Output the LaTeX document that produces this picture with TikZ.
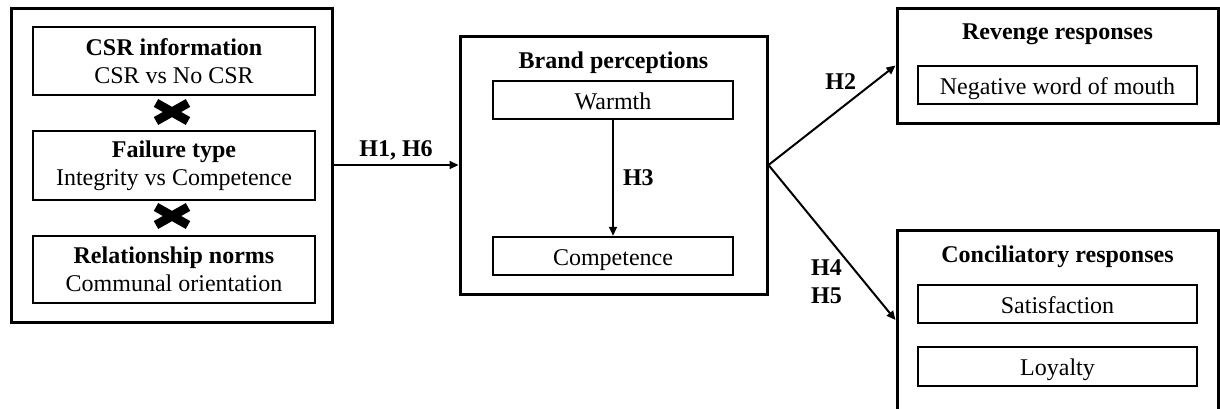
\documentclass[tikz,border=0pt]{standalone}
\usepackage{fontspec}
\setmainfont{Liberation Serif}
\usetikzlibrary{arrows.meta,positioning}

\newcommand{\figfont}{\fontsize{24}{28}\selectfont}

\tikzset{
  outerbox/.style={draw, line width=3pt, minimum width=321pt, inner sep=0pt},
  innerbox/.style={draw, line width=2.5pt, inner sep=0pt, align=center},
  itembox/.style={innerbox, text height=20pt, text depth=2pt},
  hyp/.style={font=\figfont\bfseries, inner sep=0pt},
  link/.style={line width=2pt, -{Triangle[length=9pt,width=8pt]}},
}

\begin{document}
\begin{tikzpicture}[x=1pt, y=-1pt, every node/.style={font=\figfont}]
    \useasboundingbox (0,0) rectangle (1220,408);

    % Blocco dei fattori manipolati
    \node[outerbox, minimum height=314pt] (manip) at (171.5,165) {};
    \node[innerbox, minimum width=282pt, minimum height=68pt] (csr) at (174,61) {\textbf{CSR information}\\CSR vs No CSR};
    \node[innerbox, minimum width=282pt, minimum height=69pt] (failure) at (174,165.5) {\textbf{Failure type}\\Integrity vs Competence};
    \node[innerbox, minimum width=282pt, minimum height=67pt] (norms) at (174,269.5) {\textbf{Relationship norms}\\Communal orientation};
    \foreach \y in {112,216} \draw[line width=9pt] (156,\y-9) -- (188,\y+9) (156,\y+9) -- (188,\y-9);

    % Percezioni del brand
    \node[outerbox, minimum width=307pt, minimum height=258pt] (brand) at (613.5,165) {};
    \node[hyp, anchor=base] (brandtitle) at (613.5,68) {Brand perceptions};
    \node[itembox, minimum width=240pt, minimum height=38pt] (warmth) at (613,100) {Warmth};
    \node[itembox, minimum width=240pt, minimum height=38pt] (competence) at (613,256) {Competence};

    % Risposte
    \node[outerbox, minimum height=115pt] (revenge) at (1057.5,65.5) {};
    \node[hyp, anchor=base] (revtitle) at (1057.5,39) {Revenge responses};
    \node[itembox, minimum width=279pt, minimum height=38pt] (wom) at (1057.5,85) {Negative word of mouth};

    \node[outerbox, minimum height=180pt] (concil) at (1057.5,320) {};
    \node[hyp, anchor=base] (conciltitle) at (1057.5,262) {Conciliatory responses};
    \node[itembox, minimum width=279pt, minimum height=38pt] (satisf) at (1057.5,304) {Satisfaction};
    \node[itembox, minimum width=279pt, minimum height=39pt] (loyal) at (1057.5,366.5) {Loyalty};

    % Frecce
    \draw[link] (manip) -- node[hyp, above=4pt] {H1, H6} (brand);
    \draw[link] (warmth) -- node[hyp, right=9pt] {H3} (competence);
    \draw[link] (brand.east) -- node[hyp, pos=0.6, above=15pt, xshift=-4pt] {H2} (revenge.west);
    \draw[link] (brand.east) -- node[hyp, pos=0.75, left=21pt, align=left] {H4\\H5} (concil.west);

\end{tikzpicture}
\end{document}
